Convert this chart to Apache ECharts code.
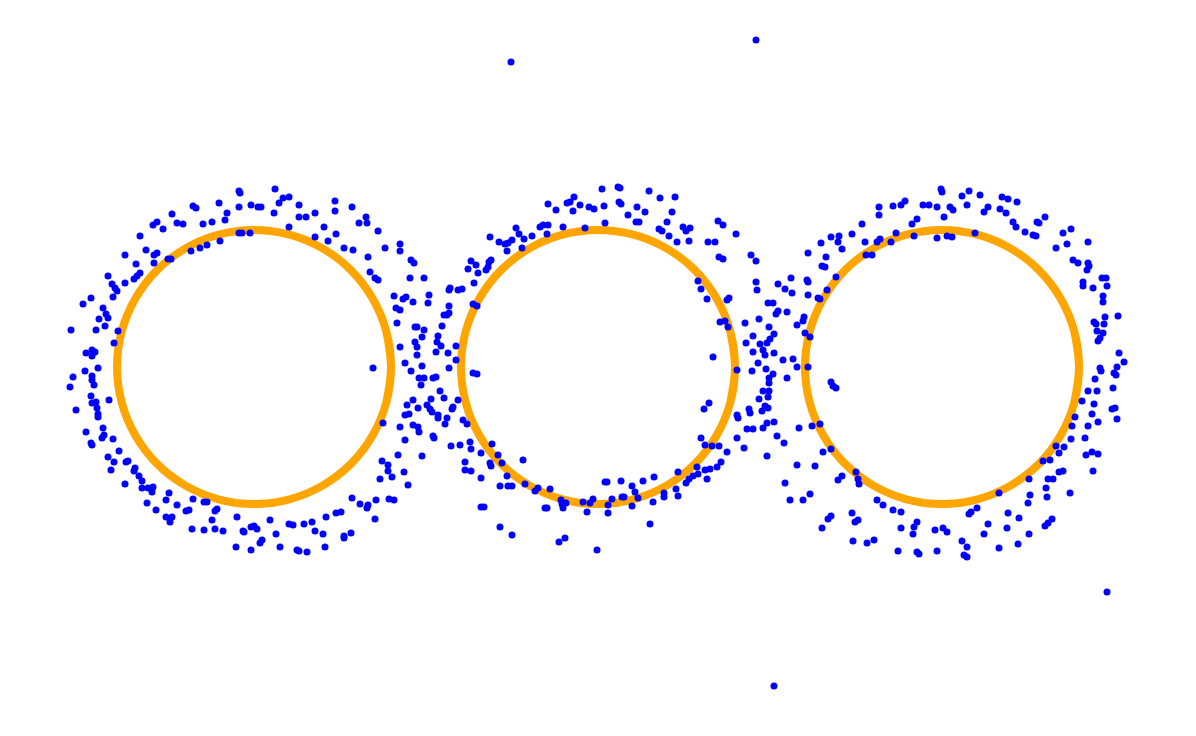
<!DOCTYPE html>
<html>
<head>
<meta charset="utf-8">
<title>rings</title>
<script src="https://cdn.jsdelivr.net/npm/echarts@6/dist/echarts.min.js"></script>
<style>
	html, body { margin: 0; padding: 0; background: #fff; }
	#chart { width: 1196px; height: 736px; }
</style>
</head>
<body>
<div id="chart"></div>
<script>
// ring outlines (15 degree steps, one step of overlap at each end)
var ringY = [-0.355, 0, 0.355, 0.685, 0.969, 1.186, 1.323, 1.370, 1.323, 1.186, 0.969, 0.685, 0.355, 0, -0.355, -0.685, -0.969, -1.186, -1.323, -1.370, -1.323, -1.186, -0.969, -0.685, -0.355, 0, 0.355];
var ringWestX = [-2.117, -2.070, -2.117, -2.254, -2.471, -2.755, -3.085, -3.440, -3.795, -4.125, -4.409, -4.626, -4.763, -4.810, -4.763, -4.626, -4.409, -4.125, -3.795, -3.440, -3.085, -2.755, -2.471, -2.254, -2.117, -2.070, -2.117];
var ringMidX = [1.323, 1.370, 1.323, 1.186, 0.969, 0.685, 0.355, 0, -0.355, -0.685, -0.969, -1.186, -1.323, -1.370, -1.323, -1.186, -0.969, -0.685, -0.355, 0, 0.355, 0.685, 0.969, 1.186, 1.323, 1.370, 1.323];
var ringEastX = [4.763, 4.810, 4.763, 4.626, 4.409, 4.125, 3.795, 3.440, 3.085, 2.755, 2.471, 2.254, 2.117, 2.070, 2.117, 2.254, 2.471, 2.755, 3.085, 3.440, 3.795, 4.125, 4.409, 4.626, 4.763, 4.810, 4.763];

// noisy points
var dotsWest = [
	[-3.59,1.76],[-3.58,1.74],[-3.23,1.78],[-3.15,1.69],[-3.09,1.70],[-3.19,1.64],[-3.40,1.60],[-3.37,1.60],[-3.47,1.62],[-3.59,1.60],
	[-3.79,1.64],[-4.05,1.61],[-4.02,1.59],[-3.71,1.54],[-3.73,1.47],[-3.86,1.45],[-3.95,1.43],[-4.21,1.44],[-4.15,1.43],[-4.26,1.53],
	[-4.45,1.42],[-4.41,1.45],[-4.35,1.38],[-4.58,1.31],[-2.99,1.62],[-3.24,1.54],[-3.09,1.40],[-2.99,1.50],[-2.92,1.50],[-2.83,1.54],
	[-2.63,1.66],[-2.63,1.56],[-2.46,1.60],[-2.74,1.40],[-2.62,1.33],[-2.83,1.30],[-2.70,1.26],[-2.54,1.19],[-2.45,1.17],[-2.39,1.44],
	[-2.32,1.50],[-2.31,1.44],[-2.20,1.36],[-2.13,1.19],[-1.98,1.23],[-1.98,1.16],[-2.30,1.10],[-1.87,1.07],[-1.84,1.04],[-2.28,0.95],
	[-2.23,0.89],[-2.20,0.87],[-1.88,0.89],[-2.04,0.71],[-1.95,0.68],[-1.92,0.70],[-1.85,0.65],[-2.02,0.59],[-1.98,0.57],[-2.01,0.44],
	[-1.83,0.40],[-1.81,0.40],[-1.98,0.20],[-1.83,0.25],[-1.81,0.20],[-1.81,0.12],[-1.93,0.04],[-3.59,1.34],[-3.56,1.34],[-3.48,1.34],
	[-3.78,1.26],[-3.91,1.22],[-3.98,1.19],[-4.07,1.16],[-4.30,1.08],[-4.27,1.08],[-4.52,1.17],[-4.44,1.12],[-4.41,1.14],[-4.44,1.04],
	[-4.73,1.12],[-4.62,1.03],[-4.58,0.94],[-4.61,0.91],[-4.64,0.88],[-4.73,0.84],[-4.90,0.91],[-4.86,0.83],[-4.83,0.79],[-4.81,0.76],
	[-4.85,0.70],[-5.07,0.69],[-5.15,0.63],[-4.95,0.59],[-4.92,0.53],[-4.90,0.49],[-4.99,0.48],[-4.93,0.41],[-5.02,0.37],[-5.27,0.37],
	[-4.80,0.36],[-4.84,0.24],[-5.12,0.14],[-5.06,0.17],[-5.03,0.15],[-5.06,0.11],
	[-5.00,-0.01],[-5.13,-0.04],[-5.25,-0.10],[-5.06,-0.09],[-5.06,-0.13],[-5.04,-0.18],[-5.28,-0.20],[-2.25,-0.01],[-1.87,-0.04],[-5.07,-0.29],
	[-4.89,-0.33],[-5.06,-0.36],[-5.02,-0.35],[-5.01,-0.41],[-5.00,-0.47],[-5.00,-0.50],[-5.22,-0.43],[-4.95,-0.61],[-5.12,-0.65],[-4.94,-0.68],
	[-4.96,-0.71],[-4.85,-0.72],[-5.07,-0.76],[-5.06,-0.78],[-4.79,-0.84],[-4.90,-0.90],[-4.84,-0.95],[-4.72,-0.95],[-4.70,-0.94],[-4.87,-1.03],
	[-4.63,-1.01],[-4.64,-1.04],[-4.59,-1.09],[-4.56,-1.14],[-4.73,-1.17],[-4.56,-1.21],[-4.50,-1.21],[-4.45,-1.20],[-4.46,-1.25],[-4.29,-1.26],
	[-4.51,-1.36],[-4.32,-1.33],[-4.21,-1.38],[-4.42,-1.43],[-4.05,-1.32],[-3.94,-1.35],[-3.91,-1.35],[-4.12,-1.44],[-4.09,-1.43],[-3.83,-1.44],
	[-3.81,-1.42],[-4.32,-1.50],[-4.26,-1.50],[-4.28,-1.55],[-3.86,-1.53],[-4.06,-1.62],[-3.94,-1.63],[-3.83,-1.62],[-3.75,-1.64],[-3.61,-1.50],
	[-3.55,-1.64],[-3.54,-1.65],[-3.47,-1.60],[-3.44,-1.59],[-3.41,-1.62],[-3.28,-1.53],[-3.36,-1.73],[-3.38,-1.76],[-3.62,-1.80],[-3.47,-1.83],
	[-3.22,-1.67],[-3.18,-1.80],[-3.09,-1.57],[-3.05,-1.58],[-2.94,-1.57],[-2.86,-1.55],[-2.83,-1.64],[-3.01,-1.83],[-2.99,-1.84],[-2.91,-1.85],
	[-2.73,-1.80],[-2.75,-1.67],[-2.72,-1.50],[-2.62,-1.46],[-2.57,-1.45],[-2.54,-1.69],[-2.54,-1.71],[-2.47,-1.66],[-2.46,-1.31],[-2.38,-1.37],
	[-2.31,-1.41],[-2.30,-1.38],[-2.22,-1.33],[-2.23,-1.52],[-2.09,-1.32],[-2.04,-1.33],[-2.18,-1.12],[-2.06,-1.10],[-2.16,-0.94],[-2.10,-0.98],
	[-2.10,-1.04],[-1.94,-1.05],[-1.90,-1.18],[-2.00,-0.88],[-2.15,-0.56],[-1.98,-0.60],[-1.93,-0.73],[-1.85,-0.58],[-1.93,-0.48],[-1.89,-0.47],
	[-1.91,-0.38],[-1.85,-0.33]
];
var dotsCentre = [
	[-1.74,0.89],[-1.69,0.72],[-1.70,0.64],[-1.74,0.37],[-1.76,0.30],[-1.76,0.01],[-1.62,0.15],[-1.60,0.31],[-1.61,0.25],[-1.57,0.21],
	[-1.56,0.41],[-1.54,0.52],[-1.51,0.52],[-1.49,0.54],[-1.49,0.61],[-1.50,0.14],[-1.42,0.21],[-1.42,0.07],[-1.49,0.77],[-1.48,0.79],
	[-1.40,0.77],[-1.36,0.78],[-1.30,0.98],[-1.27,1.06],[-1.22,1.02],[-1.20,0.94],[-1.24,0.84],[-1.25,0.63],[-1.21,0.61],[-1.12,0.97],
	[-1.10,1.00],[-1.09,1.05],[-1.07,1.07],[-1.08,1.30],[-0.99,1.25],[-0.93,1.23],[-0.90,1.24],[-0.86,1.27],[-0.91,1.16],[-0.82,1.39],
	[-0.79,1.33],[-0.74,1.28],[-0.76,1.19],[-0.66,1.31],[-0.58,1.40],[-0.55,1.42],[-0.50,1.42],[-0.51,1.33],[-0.50,1.63],[-0.42,1.57],
	[-0.35,1.40],[-0.31,1.64],[-0.28,1.65],[-0.24,1.70],[-0.25,1.56],[-0.18,1.62],[-0.09,1.60],[-0.04,1.58],[-0.13,1.39],[0.04,1.78],
	[0.06,1.61],[0.07,1.44],[0.20,1.80],[0.22,1.79],[0.21,1.65],[0.23,1.63],[0.30,1.52],[0.39,1.60],[0.47,1.55],[0.38,1.45],
	[0.41,1.45],[0.51,1.76],[0.62,1.69],[0.77,1.70],[0.74,1.55],[0.69,1.45],[0.61,1.38],[0.64,1.36],[0.71,1.31],[0.79,1.25],
	[0.85,1.40],[0.88,1.36],[0.92,1.39],[0.91,1.26],[1.10,1.25],[1.17,1.25],[1.20,1.46],[1.25,1.42],[1.38,1.33],[1.21,1.10],
	[1.25,1.08],[1.53,1.12],[1.58,1.06],[1.00,0.86],[1.03,0.78],[1.09,0.68],[1.29,0.67],[1.31,0.69],[1.58,0.85],[1.59,0.77],
	[1.80,0.83],[1.22,0.45],[1.27,0.46],[1.30,0.40],[1.47,0.44],[1.61,0.48],[1.70,0.64],[1.75,0.64],[1.78,0.53],[1.80,0.56],
	[1.71,0.40],[1.55,0.31],[1.48,0.24],[1.76,0.33],[1.72,0.28],[1.62,0.23],[1.69,0.24],[1.65,0.17],[1.67,0.12],[1.76,0.14],
	[1.55,0.15],[1.60,0.04],[1.15,0.10],
	[-1.49,-0.01],[-1.79,-0.11],[-1.74,-0.11],[-1.77,-0.18],[-1.65,-0.11],[-1.62,-0.10],[-1.58,-0.24],[-1.54,-0.31],[-1.67,-0.32],[-1.71,-0.38],
	[-1.80,-0.41],[-1.66,-0.45],[-1.68,-0.42],[-1.60,-0.48],[-1.60,-0.51],[-1.51,-0.51],[-1.53,-0.57],[-1.45,-0.40],[-1.46,-0.42],[-1.40,-0.33],
	[-1.80,-0.60],[-1.79,-0.65],[-1.65,-0.69],[-1.64,-0.71],[-1.76,-0.89],[-1.47,-0.79],[-1.38,-0.78],[-1.35,-0.53],[-1.31,-0.57],[-1.25,-0.06],
	[-1.21,-0.07],[-1.28,-0.75],[-1.27,-0.82],[-1.17,-0.86],[-1.06,-0.77],[-1.33,-0.95],[-1.33,-1.03],[-1.27,-1.04],[-1.17,-1.11],[-1.08,-0.96],
	[-1.07,-0.99],[-1.00,-0.88],[-0.96,-0.96],[-0.91,-1.09],[-0.98,-1.19],[-0.90,-1.19],[-0.86,-1.19],[-0.75,-0.93],[-0.73,-1.17],[-0.63,-1.24],
	[-0.60,-1.21],[-0.48,-1.22],[-1.17,-1.40],[-1.14,-1.40],[-0.98,-1.60],[-0.86,-1.68],[-0.53,-1.41],[-0.51,-1.41],[-0.37,-1.33],[-0.36,-1.37],
	[-0.32,-1.36],[-0.35,-1.41],[-0.39,-1.75],[-0.33,-1.71],[-0.15,-1.35],[-0.11,-1.45],[-0.08,-1.36],[-0.05,-1.32],[-0.01,-1.83],[0.07,-1.15],
	[0.09,-1.15],[0.10,-1.38],[0.10,-1.46],[0.14,-1.32],[0.23,-1.14],[0.24,-1.30],[0.26,-1.30],[0.34,-1.19],[0.37,-1.25],[0.40,-1.31],
	[0.34,-1.39],[0.45,-1.14],[0.56,-1.10],[0.55,-1.35],[0.52,-1.57],[0.66,-1.26],[0.66,-1.30],[0.78,-1.22],[0.80,-1.29],[0.80,-1.05],
	[0.88,-1.16],[0.91,-1.12],[0.95,-1.09],[0.99,-1.00],[1.00,-1.07],[1.07,-1.03],[1.12,-1.02],[1.09,-1.12],[1.19,-1.00],[1.23,-0.95],
	[1.03,-0.71],[1.07,-0.78],[1.14,-0.79],[1.21,-0.79],[1.29,-0.85],[1.39,-0.71],[1.46,-0.81],[1.06,-0.42],[1.11,-0.36],[1.39,-0.48],
	[1.40,-0.51],[1.39,-0.03],[1.54,-0.04],[1.68,-0.02],[1.75,-0.07],[1.71,-0.11],[1.71,-0.16],[1.65,-0.24],[1.71,-0.24],[1.70,-0.30],
	[1.61,-0.32],[1.67,-0.39],[1.70,-0.41],[1.64,-0.44],[1.51,-0.42],[1.52,-0.46],[1.69,-0.56],[1.65,-0.61],[1.76,-0.55],[1.49,-0.62],
	[1.55,-0.62],[1.79,-0.69],[1.69,-0.89]
];
var dotsEast = [
	[1.93,0.89],[1.87,0.78],[1.94,0.74],[1.89,0.55],[1.85,0.07],[1.95,0.08],[2.09,0.87],[2.10,0.85],[2.10,0.72],[2.20,0.69],
	[2.22,0.68],[2.29,0.77],[2.38,0.90],[2.06,0.50],[2.05,0.46],[1.99,0.42],[2.07,0.34],[2.12,0.30],[2.10,1.14],[2.23,1.24],
	[2.28,1.10],[2.24,1.01],[2.27,1.00],[2.33,1.30],[2.41,1.31],[2.40,1.25],[2.44,1.18],[2.54,1.33],[2.64,1.43],[2.67,1.25],
	[2.68,1.12],[2.74,1.12],[2.79,1.25],[2.82,1.28],[2.81,1.60],[2.81,1.52],[2.93,1.25],[2.98,1.34],[2.95,1.61],[3.03,1.62],
	[3.07,1.66],[3.14,1.43],[3.19,1.48],[3.16,1.31],[3.25,1.62],[3.31,1.62],[3.39,1.60],[3.39,1.29],[3.43,1.78],[3.44,1.75],
	[3.46,1.50],[3.52,1.60],[3.55,1.57],[3.49,1.31],[3.54,1.30],[3.64,1.71],[3.71,1.76],[3.69,1.62],[3.82,1.72],[3.77,1.34],
	[3.90,1.60],[3.86,1.55],[4.04,1.70],[4.10,1.68],[4.19,1.65],[4.02,1.58],[4.08,1.54],[4.15,1.45],[4.18,1.40],[4.27,1.35],
	[4.35,1.32],[4.38,1.31],[4.39,1.45],[4.41,1.44],[4.47,1.50],[4.65,1.34],[4.73,1.38],[4.58,1.19],[4.69,1.23],[4.90,1.25],
	[4.75,1.07],[4.80,1.04],[4.90,1.04],[4.91,1.01],[4.89,0.97],[4.85,0.85],[4.85,0.81],[4.95,0.79],[5.04,0.89],[5.08,0.89],
	[5.09,0.81],[5.05,0.71],[5.05,0.65],[5.20,0.51],[4.96,0.45],[4.98,0.43],[5.07,0.50],[5.06,0.43],[4.99,0.36],[5.05,0.34],
	[5.02,0.29],[5.00,0.26],[5.21,0.14],[5.26,0.05],
	[1.99,0.00],[2.10,0.00],[1.89,-0.11],[2.33,-0.15],[2.35,-0.19],[2.38,-0.21],[1.86,-0.76],[2.01,-0.61],[2.14,-0.59],[2.22,-0.57],
	[2.25,-0.85],[2.33,-0.82],[1.99,-0.98],[2.17,-0.99],[1.87,-1.16],[1.92,-1.33],[2.05,-1.33],[2.12,-1.27],[2.40,-1.13],[2.44,-1.09],
	[2.58,-1.05],[2.60,-1.12],[2.61,-1.17],[2.24,-1.61],[2.30,-1.52],[2.33,-1.49],[2.54,-1.46],[2.57,-1.55],[2.60,-1.53],[2.55,-1.74],
	[2.69,-1.76],[2.76,-1.73],[2.79,-1.33],[2.85,-1.38],[2.95,-1.43],[3.03,-1.45],[3.03,-1.61],[3.00,-1.84],[3.19,-1.55],[3.16,-1.60],
	[3.15,-1.67],[3.19,-1.85],[3.21,-1.87],[3.37,-1.63],[3.45,-1.61],[3.49,-1.65],[3.39,-1.84],[3.64,-1.74],[3.69,-1.80],[3.66,-1.88],
	[3.69,-1.90],[3.71,-1.47],[3.73,-1.45],[3.79,-1.41],[3.90,-1.57],[3.86,-1.67],[4.01,-1.26],[4.10,-1.46],[4.09,-1.61],[4.01,-1.81],
	[4.20,-1.77],[4.21,-1.51],[4.31,-1.67],[4.30,-1.36],[4.32,-1.28],[4.31,-1.12],[4.45,-0.94],[4.52,-0.93],[4.48,-1.21],[4.49,-1.30],
	[4.50,-1.12],[4.55,-1.12],[4.61,-1.05],[4.65,-1.04],[4.72,-1.26],[4.47,-1.59],[4.50,-1.56],[4.54,-1.52],[4.58,-0.79],[4.61,-0.86],
	[4.66,-0.80],[4.73,-0.72],[4.74,-0.59],[4.77,-0.50],[4.84,-0.34],[4.87,-0.71],[4.90,-0.59],[4.88,-0.88],[4.94,-0.85],[5.00,-0.87],
	[4.95,-1.04],[4.94,-0.47],[5.00,-0.55],[4.96,-0.37],[4.90,-0.24],[4.99,-0.24],[4.97,-0.12],[5.02,-0.01],[5.03,-0.04],[5.19,0.00],
	[5.16,-0.06],[5.18,-0.08],[5.15,-0.21],[5.14,-0.42],[5.17,-0.41],[5.19,-0.52]
];
var dotsFar = [[-0.87,3.05],[1.58,3.27],[5.09,-2.25],[1.76,-3.19]];

var ORANGE = '#ffa500', BLUE = '#0000ff';

function zipRing(xs) {
	var out = [];
	for (var i = 0; i < xs.length; i++) {
		out.push([xs[i], ringY[i]]);
	}
	return out;
}

function ringSeries(xs) {
	return {
		type: 'line',
		data: zipRing(xs),
		symbol: 'none',
		smooth: 0.34,
		silent: true,
		z: 1,
		lineStyle: {color: ORANGE, width: 8, join: 'round', cap: 'butt'}
	};
}

function dotSeries(pts) {
	return {
		type: 'scatter',
		data: pts,
		symbol: 'circle',
		symbolSize: 7,
		silent: true,
		z: 3,
		itemStyle: {color: BLUE, opacity: 1}
	};
}

var chart = echarts.init(document.getElementById('chart'), null, {renderer: 'canvas'});
chart.setOption({
	animation: false,
	backgroundColor: '#ffffff',
	grid: {left: 0, right: 0, top: 0, bottom: 0, containLabel: false},
	xAxis: {type: 'value', min: -5.98, max: 5.98, show: false},
	yAxis: {type: 'value', min: -3.69, max: 3.67, show: false},
	series: [
		ringSeries(ringWestX),
		ringSeries(ringMidX),
		ringSeries(ringEastX),
		dotSeries(dotsWest),
		dotSeries(dotsCentre),
		dotSeries(dotsEast),
		dotSeries(dotsFar)
	]
});
</script>
</body>
</html>
